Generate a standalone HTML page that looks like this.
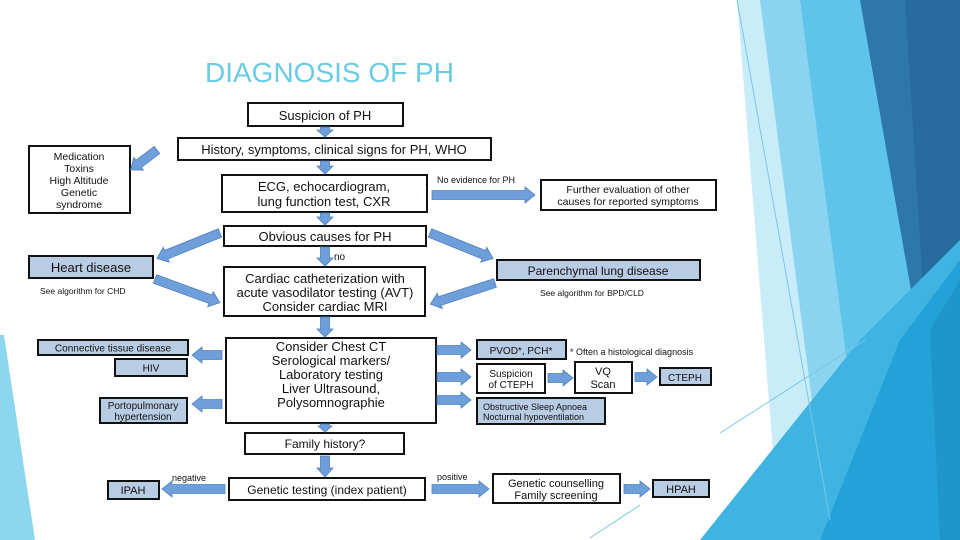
<!DOCTYPE html>
<html><head><meta charset="utf-8"><style>
html,body{margin:0;padding:0;background:#fff;}
svg{display:block;font-family:"Liberation Sans",Arial,sans-serif;}
.b{fill:#fff;stroke:#111;stroke-width:2;}
.f{fill:#b8cce4;stroke:#111;stroke-width:2;}
text{fill:#111;}
</style></head><body>
<svg width="960" height="540" viewBox="0 0 960 540" xmlns="http://www.w3.org/2000/svg">
<!-- background right -->
<polygon points="737,0 870,0 905,330 850,540 780,540" fill="#c9ecf9"/>
<polygon points="760,0 860,0 905,330 880,540 830,540" fill="#8ad4f1"/>
<polygon points="800,0 870,0 918,330 900,540 870,540" fill="#5ec4ea"/>
<polygon points="860,0 960,0 960,270 918,330" fill="#2e77aa"/>
<polygon points="905,0 960,0 960,270 925,320" fill="#286b9e"/>
<polygon points="700,540 860,340 960,240 960,540" fill="#3fb3e2"/>
<polygon points="820,540 900,340 960,260 960,540" fill="#22a2d6"/>
<polygon points="930,330 960,280 960,540 940,540" fill="#1f96c9"/>
<line x1="737" y1="0" x2="830" y2="520" stroke="#7cc6e6" stroke-width="1"/>
<line x1="720" y1="433" x2="865" y2="340" stroke="#7cc6e6" stroke-width="1"/>
<line x1="590" y1="538" x2="640" y2="505" stroke="#7cc6e6" stroke-width="1"/>
<!-- left strip -->
<polygon points="0,335 4,335 35,540 0,540" fill="#8dd6f0"/>

<text x="205" y="82" font-size="28" style="fill:#6acbe4">DIAGNOSIS OF PH</text>

<!-- boxes -->
<rect class="b" x="248" y="103" width="155" height="23"/>
<text x="325" y="120" font-size="13" text-anchor="middle">Suspicion of PH</text>
<rect class="b" x="178" y="138" width="313" height="22"/>
<text x="334" y="154" font-size="13" text-anchor="middle">History, symptoms, clinical signs for PH, WHO</text>
<rect class="b" x="29" y="146" width="101" height="67"/>
<g font-size="10.5" text-anchor="middle"><text x="79" y="160">Medication</text><text x="79" y="172">Toxins</text><text x="79" y="184">High Altitude</text><text x="79" y="196">Genetic</text><text x="79" y="208">syndrome</text></g>
<rect class="b" x="222" y="175" width="205" height="37"/>
<text x="324" y="191" font-size="13" text-anchor="middle">ECG, echocardiogram,</text>
<text x="324" y="206" font-size="13" text-anchor="middle">lung function test, CXR</text>
<text x="437" y="183" font-size="9">No evidence for PH</text>
<rect class="b" x="541" y="180" width="175" height="30"/>
<text x="628" y="193" font-size="10.5" text-anchor="middle">Further evaluation of other</text>
<text x="628" y="205" font-size="10.5" text-anchor="middle">causes for reported symptoms</text>
<rect class="b" x="224" y="226" width="202" height="20"/>
<text x="325" y="241" font-size="13" text-anchor="middle">Obvious causes for PH</text>
<text x="334" y="260" font-size="10">no</text>
<rect class="f" x="29" y="256" width="124" height="22"/>
<text x="91" y="272" font-size="13" text-anchor="middle">Heart disease</text>
<text x="40" y="294" font-size="8.5">See algorithm for CHD</text>
<rect class="b" x="224" y="267" width="201" height="49"/>
<g font-size="13" text-anchor="middle"><text x="325" y="283">Cardiac catheterization with</text><text x="325" y="297">acute vasodilator testing (AVT)</text><text x="325" y="311">Consider cardiac MRI</text></g>
<rect class="f" x="497" y="260" width="203" height="20"/>
<text x="598" y="275" font-size="12" text-anchor="middle">Parenchymal lung disease</text>
<text x="540" y="296" font-size="8.5">See algorithm for BPD/CLD</text>

<rect class="f" x="38" y="340" width="150" height="15"/>
<text x="113" y="351.5" font-size="10" text-anchor="middle">Connective tissue disease</text>
<rect class="f" x="115" y="359" width="72" height="17"/>
<text x="151" y="371.5" font-size="10" text-anchor="middle">HIV</text>
<rect class="f" x="100" y="398" width="87" height="25"/>
<text x="143" y="409" font-size="10" text-anchor="middle">Portopulmonary</text>
<text x="143" y="420" font-size="10" text-anchor="middle">hypertension</text>
<rect class="b" x="226" y="338" width="210" height="85"/>
<g font-size="13" text-anchor="middle"><text x="331" y="351">Consider Chest CT</text><text x="331" y="365">Serological markers/</text><text x="331" y="379">Laboratory testing</text><text x="331" y="393">Liver Ultrasound,</text><text x="331" y="407">Polysomnographie</text></g>
<rect class="f" x="477" y="340" width="89" height="19"/>
<text x="521" y="354" font-size="10" text-anchor="middle">PVOD*, PCH*</text>
<text x="570" y="355" font-size="9">* Often a histological diagnosis</text>
<rect class="b" x="477" y="364" width="68" height="29"/>
<text x="511" y="377" font-size="10" text-anchor="middle">Suspicion</text>
<text x="511" y="388" font-size="10" text-anchor="middle">of  CTEPH</text>
<rect class="b" x="575" y="362" width="57" height="31"/>
<text x="603" y="375" font-size="11" text-anchor="middle">VQ</text>
<text x="603" y="388" font-size="11" text-anchor="middle">Scan</text>
<rect class="f" x="660" y="368" width="51" height="17"/>
<text x="685" y="381" font-size="10" text-anchor="middle">CTEPH</text>
<rect class="f" x="477" y="398" width="128" height="26"/>
<text x="483" y="410" font-size="9">Obstructive Sleep Apnoea</text>
<text x="483" y="420" font-size="9">Nocturnal hypoventilation</text>

<rect class="b" x="245" y="433" width="159" height="21"/>
<text x="325" y="448" font-size="12" text-anchor="middle">Family history?</text>
<rect class="b" x="229" y="478" width="196" height="22"/>
<text x="327" y="494" font-size="12" text-anchor="middle">Genetic testing (index patient)</text>
<rect class="f" x="108" y="481" width="51" height="18"/>
<text x="133" y="494" font-size="11" text-anchor="middle">IPAH</text>
<text x="172" y="481" font-size="9">negative</text>
<text x="437" y="480" font-size="9">positive</text>
<rect class="b" x="493" y="474" width="127" height="29"/>
<text x="556" y="487" font-size="11" text-anchor="middle">Genetic counselling</text>
<text x="556" y="499" font-size="11" text-anchor="middle">Family screening</text>
<rect class="f" x="653" y="480" width="56" height="17"/>
<text x="681" y="493" font-size="11" text-anchor="middle">HPAH</text>

<!-- arrows -->
<g fill="#6e9fdb" stroke="#4f81bd" stroke-width="0.8">
<polygon transform="translate(325,127) rotate(90)" points="0,-4.5 3,-4.5 3,-8 10,0 3,8 3,4.5 0,4.5"/>
<polygon transform="translate(325,161) rotate(90)" points="0,-4.5 5,-4.5 5,-8 13,0 5,8 5,4.5 0,4.5"/>
<polygon transform="translate(325,213) rotate(90)" points="0,-4.5 4,-4.5 4,-8 12,0 4,8 4,4.5 0,4.5"/>
<polygon transform="translate(325,247) rotate(90)" points="0,-4.5 11,-4.5 11,-8 19,0 11,8 11,4.5 0,4.5"/>
<polygon transform="translate(325,317) rotate(90)" points="0,-4.5 12,-4.5 12,-8 20,0 12,8 12,4.5 0,4.5"/>
<polygon transform="translate(325,424) rotate(90)" points="0,-4.5 2,-4.5 2,-7 8,0 2,7 2,4.5 0,4.5"/>
<polygon transform="translate(325,456) rotate(90)" points="0,-4.5 12,-4.5 12,-8 21,0 12,8 12,4.5 0,4.5"/>
<polygon transform="translate(157,150) rotate(143)" points="0,-4.5 23,-4.5 23,-8 33,0 23,8 23,4.5 0,4.5"/>
<polygon transform="translate(432,195) rotate(0)" points="0,-4.5 93,-4.5 93,-8 103,0 93,8 93,4.5 0,4.5"/>
<polygon transform="translate(220,233) rotate(158)" points="0,-4.5 58,-4.5 58,-8 68,0 58,8 58,4.5 0,4.5"/>
<polygon transform="translate(155,279) rotate(20)" points="0,-4.5 59,-4.5 59,-8 69,0 59,8 59,4.5 0,4.5"/>
<polygon transform="translate(430,233) rotate(22)" points="0,-4.5 58,-4.5 58,-8 68,0 58,8 58,4.5 0,4.5"/>
<polygon transform="translate(495,283) rotate(162)" points="0,-4.5 58,-4.5 58,-8 68,0 58,8 58,4.5 0,4.5"/>
<polygon transform="translate(222,355) rotate(180)" points="0,-4.5 20,-4.5 20,-8 30,0 20,8 20,4.5 0,4.5"/>
<polygon transform="translate(222,404) rotate(180)" points="0,-4.5 20,-4.5 20,-8 30,0 20,8 20,4.5 0,4.5"/>
<polygon transform="translate(437,350)" points="0,-4.5 24,-4.5 24,-8 34,0 24,8 24,4.5 0,4.5"/>
<polygon transform="translate(437,377)" points="0,-4.5 24,-4.5 24,-8 34,0 24,8 24,4.5 0,4.5"/>
<polygon transform="translate(437,400)" points="0,-4.5 24,-4.5 24,-8 34,0 24,8 24,4.5 0,4.5"/>
<polygon transform="translate(548,378)" points="0,-4.5 15,-4.5 15,-8 25,0 15,8 15,4.5 0,4.5"/>
<polygon transform="translate(635,377)" points="0,-4.5 12,-4.5 12,-8 22,0 12,8 12,4.5 0,4.5"/>
<polygon transform="translate(225,489) rotate(180)" points="0,-4.5 53,-4.5 53,-8 63,0 53,8 53,4.5 0,4.5"/>
<polygon transform="translate(432,489)" points="0,-4.5 47,-4.5 47,-8 57,0 47,8 47,4.5 0,4.5"/>
<polygon transform="translate(624,489)" points="0,-4.5 16,-4.5 16,-8 26,0 16,8 16,4.5 0,4.5"/>
</g>
</svg>
</body></html>
